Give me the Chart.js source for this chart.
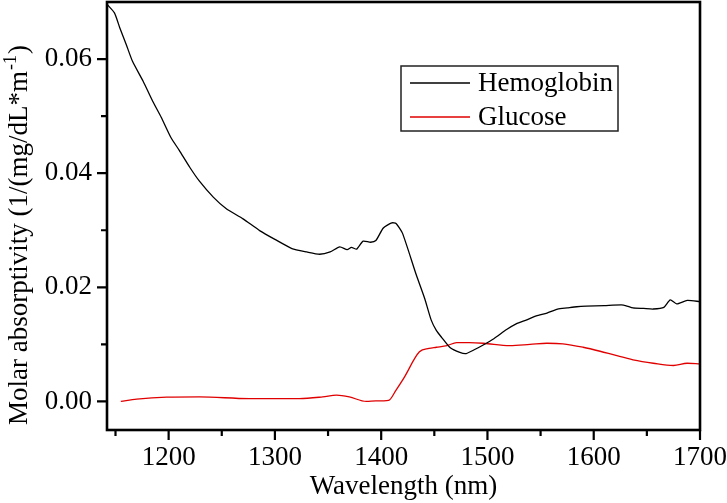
<!DOCTYPE html>
<html>
<head>
<meta charset="utf-8">
<script src="https://cdn.jsdelivr.net/npm/chart.js@4"></script>
<style>
  html, body { margin: 0; padding: 0; background: #fff; }
  #wrap { width: 727px; height: 503px; }
</style>
</head>
<body>
<div id="wrap"><canvas id="absChart" width="727" height="503"></canvas></div>
<script>
// Hemoglobin spectrum (wavelength nm, molar absorptivity)
const hemoWl = [1142, 1149, 1154, 1160, 1166, 1176, 1185, 1193, 1202, 1210, 1220, 1229, 1242, 1254, 1270, 1286, 1300, 1316, 1330, 1342, 1352, 1361, 1368, 1372, 1377, 1383, 1390, 1395, 1402, 1410, 1414, 1420, 1433, 1441, 1447, 1452, 1457, 1465, 1474, 1480, 1488, 1496, 1506, 1518, 1527, 1537, 1546, 1556, 1566, 1575, 1584, 1593, 1610, 1628, 1637, 1647, 1656, 1666, 1672, 1678, 1688, 1700];
const hemoVal = [0.0696, 0.0681, 0.0655, 0.0626, 0.0596, 0.0561, 0.0526, 0.0498, 0.0463, 0.0440, 0.0410, 0.0386, 0.0358, 0.0338, 0.0320, 0.0299, 0.0284, 0.0268, 0.0262, 0.0258, 0.0262, 0.0271, 0.0266, 0.0270, 0.0267, 0.0281, 0.0279, 0.0282, 0.0304, 0.0313, 0.0312, 0.0295, 0.0222, 0.0180, 0.0143, 0.0124, 0.0112, 0.0094, 0.0086, 0.0084, 0.0091, 0.0099, 0.0110, 0.0126, 0.0136, 0.0143, 0.0150, 0.0155, 0.0162, 0.0164, 0.0166, 0.0167, 0.0168, 0.0169, 0.0164, 0.0163, 0.0162, 0.0165, 0.0178, 0.0171, 0.0177, 0.0175];

// Glucose spectrum
const glucWl = [1155, 1170, 1198, 1229, 1276, 1323, 1345, 1358, 1370, 1386, 1395, 1407, 1414, 1421, 1436, 1445, 1452, 1462, 1471, 1483, 1496, 1521, 1540, 1556, 1571, 1590, 1606, 1620, 1637, 1656, 1675, 1688, 1700];
const glucVal = [0.0000, 0.0004, 0.00075, 0.0008, 0.0005, 0.0005, 0.0008, 0.0011, 0.0008, 0.0000, 0.0001, 0.0002, 0.0020, 0.0040, 0.0087, 0.0093, 0.0095, 0.0098, 0.0103, 0.0103, 0.0102, 0.0098, 0.0100, 0.0102, 0.0101, 0.0095, 0.0088, 0.0081, 0.0073, 0.0067, 0.0063, 0.0067, 0.0066];

const seriesNames = ['Hemoglobin', 'Glucose'];
const xMajor = [1200, 1300, 1400, 1500, 1600, 1700];
const xMinor = [1150, 1250, 1350, 1450, 1550, 1650];
const yMajor = [0.00, 0.02, 0.04, 0.06];
const yMinor = [0.01, 0.03, 0.05];

const FONT = '"Liberation Serif", "Times New Roman", serif';
const toPts = (xs, ys) => xs.map((x, i) => ({ x: x, y: ys[i] }));

// frame, tick marks, y title and legend
const decor = {
  id: 'decor',
  afterDraw(chart) {
    const { ctx, chartArea: a, scales } = chart;
    const xs = scales.x, ys = scales.y;
    ctx.save();
    ctx.strokeStyle = '#000';
    ctx.lineWidth = 2.6;
    ctx.strokeRect(a.left, a.top, a.right - a.left, a.bottom - a.top);

    ctx.lineWidth = 2.2;
    ctx.beginPath();
    xMajor.forEach(v => { const p = xs.getPixelForValue(v); ctx.moveTo(p, a.bottom); ctx.lineTo(p, a.bottom + 10); });
    xMinor.forEach(v => { const p = xs.getPixelForValue(v); ctx.moveTo(p, a.bottom); ctx.lineTo(p, a.bottom + 6); });
    yMajor.forEach(v => { const p = ys.getPixelForValue(v); ctx.moveTo(a.left, p); ctx.lineTo(a.left - 10, p); });
    yMinor.forEach(v => { const p = ys.getPixelForValue(v); ctx.moveTo(a.left, p); ctx.lineTo(a.left - 6, p); });
    ctx.stroke();

    // y axis title with superscript
    ctx.translate(27, 425);
    ctx.rotate(-Math.PI / 2);
    ctx.fillStyle = '#000';
    ctx.textBaseline = 'alphabetic';
    ctx.textAlign = 'left';
    ctx.font = '27px ' + FONT;
    const main = 'Molar absorptivity (1/(mg/dL*m';
    ctx.fillText(main, 0, 0);
    let w = ctx.measureText(main).width;
    ctx.font = '18px ' + FONT;
    ctx.fillText('-1', w + 1, -11);
    w += ctx.measureText('-1').width + 2;
    ctx.font = '27px ' + FONT;
    ctx.fillText(')', w, 0);
    ctx.restore();

    // legend box
    ctx.save();
    ctx.strokeStyle = '#222';
    ctx.lineWidth = 1.5;
    ctx.strokeRect(401, 66, 217, 65);
    const rows = [83, 117];
    chart.data.datasets.forEach((ds, i) => {
      ctx.strokeStyle = ds.borderColor;
      ctx.lineWidth = 1.3;
      ctx.beginPath();
      ctx.moveTo(410, rows[i]);
      ctx.lineTo(470, rows[i]);
      ctx.stroke();
      ctx.fillStyle = '#000';
      ctx.font = '27px ' + FONT;
      ctx.textBaseline = 'middle';
      ctx.fillText(ds.label, 478, rows[i] + 1);
    });
    ctx.restore();
  }
};

new Chart(document.getElementById('absChart'), {
  type: 'scatter',
  data: {
    datasets: [{
      label: seriesNames[0],
      data: toPts(hemoWl, hemoVal),
      showLine: true,
      borderColor: '#000000',
      borderWidth: 1.3,
      pointRadius: 0,
      tension: 0.2
    }, {
      label: seriesNames[1],
      data: toPts(glucWl, glucVal),
      showLine: true,
      borderColor: '#e00000',
      borderWidth: 1.3,
      pointRadius: 0,
      cubicInterpolationMode: 'monotone'
    }]
  },
  options: {
    responsive: false,
    animation: false,
    layout: { padding: { top: 2, right: 27, left: 0, bottom: 0 } },
    plugins: { legend: { display: false }, tooltip: { enabled: false } },
    scales: {
      x: {
        type: 'linear',
        min: 1142,
        max: 1700,
        afterBuildTicks: s => { s.ticks = xMajor.map(v => ({ value: v })); },
        afterFit: s => { s.height = 73; s.paddingLeft = 0; s.paddingRight = 0; },
        grid: { display: false, drawTicks: false },
        border: { display: false },
        ticks: {
          color: '#000',
          font: { family: FONT, size: 27 },
          padding: 12,
          maxRotation: 0,
          callback: v => String(v)
        },
        title: {
          display: true,
          text: 'Wavelength (nm)',
          color: '#000',
          font: { family: FONT, size: 27 },
          padding: 0
        }
      },
      y: {
        min: -0.005,
        max: 0.07,
        afterBuildTicks: s => { s.ticks = yMajor.map(v => ({ value: v })); },
        afterFit: s => { s.width = 107; s.paddingTop = 0; s.paddingBottom = 0; },
        grid: { display: false, drawTicks: false },
        border: { display: false },
        ticks: {
          color: '#000',
          font: { family: FONT, size: 27 },
          padding: 15,
          callback: v => v.toFixed(2)
        }
      }
    }
  },
  plugins: [decor]
});
</script>
</body>
</html>
